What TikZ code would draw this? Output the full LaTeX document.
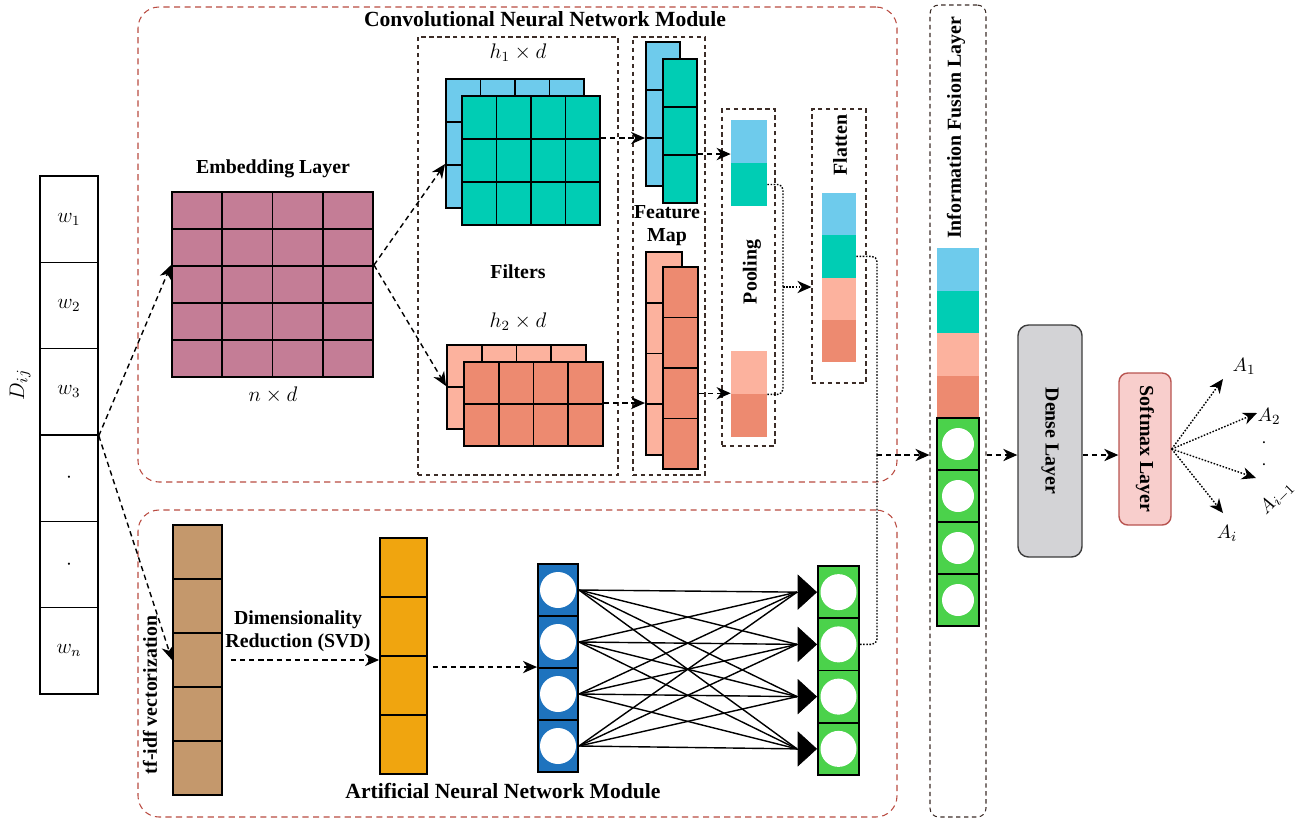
\documentclass[tikz,border=0pt]{standalone}
\usepackage[no-math]{fontspec}
\setmainfont{Liberation Serif}
\usetikzlibrary{arrows.meta,calc,positioning}

\definecolor{embmauve}{RGB}{196,125,150}
\definecolor{cellblue}{RGB}{110,203,236}
\definecolor{cellteal}{RGB}{0,205,180}
\definecolor{cellpeach}{RGB}{252,178,158}
\definecolor{cellsalmon}{RGB}{237,138,112}
\definecolor{tfbrown}{RGB}{196,152,108}
\definecolor{svdorange}{RGB}{240,165,15}
\definecolor{annblue}{RGB}{30,115,190}
\definecolor{anngreen}{RGB}{75,210,75}
\definecolor{modred}{RGB}{185,75,65}
\definecolor{boxbrown}{RGB}{60,45,40}
\definecolor{densegray}{RGB}{211,211,214}
\definecolor{densedraw}{RGB}{60,60,60}
\definecolor{smfill}{RGB}{248,206,204}
\definecolor{smdraw}{RGB}{184,84,80}

% one pixel of the layout
\newcommand{\pu}{0.02cm}

\tikzset{
  cell/.style 2 args={draw, line width=1.1pt, inner sep=0pt, minimum width=#1*\pu, minimum height=#2*\pu},
  band/.style 2 args={inner sep=0pt, minimum width=#1*\pu, minimum height=#2*\pu},
  hole/.style={circle, fill=white, inner sep=0pt, minimum size=#1*\pu},
  lbl/.style={font=\fontsize{11.3}{13.2}\selectfont\bfseries},
  modttl/.style={font=\fontsize{12.3}{14}\selectfont\bfseries},
  mathlbl/.style={font=\fontsize{12}{14}\selectfont},
  outlbl/.style={font=\fontsize{11}{13}\selectfont, inner sep=1pt},
  modbox/.style={draw=modred, semithick, dash pattern=on 3.5pt off 2.5pt, rounded corners=12pt, inner sep=0pt},
  subbox/.style={draw=boxbrown, semithick, dash pattern=on 2.5pt off 2pt, inner sep=0pt},
  dasharrow/.style={thick, dash pattern=on 3pt off 2.2pt, -{Stealth[length=8pt,width=7pt,inset=2.5pt]}},
  dotline/.style={thick, dash pattern=on 0.9pt off 0.9pt, rounded corners=3pt},
  dotarrow/.style={dotline, -{Stealth[length=8pt,width=7pt,inset=2.5pt]}}
}

\begin{document}
\begin{tikzpicture}[x=0.02cm, y=-0.02cm]
  \useasboundingbox (0,0) rectangle (1299,823);

  % modules and dashed groups
  \node[modbox, minimum width=759*\pu, minimum height=475*\pu] (cnnbox) at (517.5,244.5) {};
  \node[modbox, minimum width=759*\pu, minimum height=307*\pu] (annbox) at (517.5,663.5) {};
  \node[subbox, minimum width=200*\pu, minimum height=438*\pu] (filtbox) at (518,256) {};
  \node[subbox, minimum width=72*\pu, minimum height=438*\pu] (fmbox) at (669,256) {};
  \node[subbox, minimum width=53*\pu, minimum height=337*\pu] (poolbox) at (748.5,277.5) {};
  \node[subbox, minimum width=54*\pu, minimum height=274*\pu] (flat) at (839,246) {};
  \node[subbox, rounded corners=5pt, minimum width=56*\pu, minimum height=812*\pu] (fuse) at (958,411) {};

  \node[modttl] (cnnttl) at (545,19) {Convolutional Neural Network Module};
  \node[modttl] (annttl) at (503,791) {Artificial Neural Network Module};

  % input document
  \node[rotate=90, font=\fontsize{13}{15}\selectfont] (dij) at (20,385) {$D_{ij}$};
  \foreach \t [count=\i] in {$w_1$,$w_2$,$w_3$,$\cdot$,$\cdot$,$w_n$}
    \node[cell={58}{86.33}, line width=0.9pt, mathlbl] (w\i) at (69,{176+(\i-0.5)*86.33}) {\t};

  % embedding layer
  \foreach \r in {1,...,5}
    \foreach \c in {1,...,4}
      \node[cell={50.25}{37}, fill=embmauve] (e\r\c) at ({172+(\c-0.5)*50.25},{192+(\r-0.5)*37}) {};
  \node[lbl] (embttl) at (273,169) {Embedding Layer};
  \node[mathlbl] (embdim) at (273,395) {$n\times d$};

  % filters
  \foreach \r in {1,...,3}
    \foreach \c in {1,...,4}
      \node[cell={34.5}{43}, fill=cellblue] (fa\r\c) at ({446+(\c-0.5)*34.5},{79+(\r-0.5)*43}) {};
  \foreach \r in {1,...,3}
    \foreach \c in {1,...,4}
      \node[cell={34.5}{43}, fill=cellteal] (fb\r\c) at ({462+(\c-0.5)*34.5},{96+(\r-0.5)*43}) {};
  \foreach \r in {1,2}
    \foreach \c in {1,...,4}
      \node[cell={34.75}{42}, fill=cellpeach] (fc\r\c) at ({447+(\c-0.5)*34.75},{345+(\r-0.5)*42}) {};
  \foreach \r in {1,2}
    \foreach \c in {1,...,4}
      \node[cell={34.75}{42}, fill=cellsalmon] (fd\r\c) at ({464+(\c-0.5)*34.75},{362+(\r-0.5)*42}) {};
  \node[mathlbl] (f1dim) at (518,53) {$h_1\times d$};
  \node[lbl] (filtttl) at (518,272) {Filters};
  \node[mathlbl] (f2dim) at (518,322) {$h_2\times d$};

  % feature maps
  \foreach \r in {1,...,3} {
    \node[cell={34}{48}, fill=cellblue] (ma\r) at (663,{42+(\r-0.5)*48}) {};
  }
  \foreach \r in {1,...,3} {
    \node[cell={34}{48}, fill=cellteal] (mb\r) at (680,{59+(\r-0.5)*48}) {};
  }
  \foreach \r in {1,...,4} {
    \node[cell={36}{50.75}, fill=cellpeach] (mc\r) at (664,{252+(\r-0.5)*50.75}) {};
  }
  \foreach \r in {1,...,4} {
    \node[cell={35}{50.5}, fill=cellsalmon] (md\r) at (680.5,{267+(\r-0.5)*50.5}) {};
  }
  \node[lbl, align=center] (fmttl) at (667,226) {Feature\\Map};

  % pooling
  \node[band={36}{43}, fill=cellblue] (p1) at (749,141.5) {};
  \node[band={36}{43}, fill=cellteal] (p2) at (749,184.5) {};
  \node[band={36}{43}, fill=cellpeach] (p3) at (749,372.5) {};
  \node[band={36}{43}, fill=cellsalmon] (p4) at (749,415.5) {};
  \node[lbl, rotate=90] (poolttl) at (752,272) {Pooling};

  % flatten
  \foreach \col [count=\i] in {cellblue,cellteal,cellpeach,cellsalmon}
    \node[band={34}{42.25}, fill=\col] (fl\i) at (839,{193+(\i-0.5)*42.25}) {};
  \node[lbl, rotate=90] (flatttl) at (840,145) {Flatten};

  % information fusion
  \foreach \col [count=\i] in {cellblue,cellteal,cellpeach,cellsalmon}
    \node[band={42}{42.5}, fill=\col] (u\i) at (958,{248+(\i-0.5)*42.5}) {};
  \foreach \i in {1,...,4} {
    \node[cell={42}{52}, fill=anngreen] (v\i) at (958,{418+(\i-0.5)*52}) {};
    \node[hole=32] (vc\i) at (v\i) {};
  }
  \node[lbl, rotate=90] (fusettl) at (956,128) {Information Fusion Layer};

  % tf-idf + svd + ann
  \foreach \i in {1,...,5}
    \node[cell={49}{54}, fill=tfbrown] (t\i) at (197.5,{525+(\i-0.5)*54}) {};
  \node[lbl, rotate=90] (tfttl) at (150,695) {tf-idf vectorization};
  \foreach \i in {1,...,4}
    \node[cell={47}{59}, fill=svdorange] (o\i) at (403.5,{538+(\i-0.5)*59}) {};
  \node[lbl, align=center] (svdttl) at (298,631) {Dimensionality\\Reduction (SVD)};
  \foreach \i in {1,...,4} {
    \node[cell={40}{52}, fill=annblue] (b\i) at (558,{564+(\i-0.5)*52}) {};
    \node[hole=36] (bc\i) at (b\i) {};
    \node[cell={41}{52.25}, fill=anngreen] (n\i) at (838.5,{566+(\i-0.5)*52.25}) {};
    \node[hole=36] (nc\i) at (n\i) {};
    \coordinate (h\i) at ($(n\i.west)+(-20,0)$);
  }
  \foreach \i in {1,...,4}
    \foreach \j in {1,...,4}
      \draw[thick] (b\i.east) -- (h\j);
  \foreach \j in {1,...,4}
    \draw[-{Triangle[length=11pt,width=20pt]}] (h\j) -- (n\j.west);

  % dense and softmax
  \node[rotate=-90, draw=densedraw, fill=densegray, thick, rounded corners=6pt,
        minimum width=232*\pu, minimum height=64*\pu, lbl] (dense) at (1050,441) {Dense Layer};
  \node[rotate=-90, draw=smdraw, fill=smfill, thick, rounded corners=5pt,
        minimum width=152*\pu, minimum height=52*\pu, lbl] (soft) at (1145,449) {Softmax Layer};

  % connectors
  \draw[dasharrow] (w3.south east) -- (e31.north west);
  \draw[dasharrow] (w3.south east) -- (t3.west);
  \draw[dasharrow] (e34.north east) -- (fa31.north west);
  \draw[dasharrow] (e34.north east) -- (fc21.north west);
  \draw[dasharrow] (fb24.north east) -- (fb24.north east -| ma3.west);
  \draw[dasharrow] (fd24.north east) -- (fd24.north east -| mc4.west);
  \draw[dasharrow] (mb3.north east) -- (mb3.north east -| p1.west);
  \draw[dasharrow] (md3.east) -- (md3.east -| p3.west);

  \coordinate (pj) at (783,287);
  \draw[dotline] (p2.east) -| (pj);
  \draw[dotline] (p3.south east) -| (pj);
  \draw[dotarrow] (pj) -- (pj -| flat.west);

  \coordinate (fj) at (877,455);
  \draw[dotline] (fl2.east) -| (fj);
  \draw[dotline] (n2.east) -| (fj);
  \draw[dasharrow] (fj) -- (fj -| fuse.west);

  \draw[dasharrow, shorten <=4.5pt] (t3.east) -- (t3.east -| o3.west);
  \draw[dasharrow, shorten <=2.8pt] (o3.east |- b3.north) -- (b3.north west);

  \draw[dasharrow] (fj -| fuse.east) -- (fj -| dense.south);
  \draw[dasharrow] (fj -| dense.north) -- (fj -| soft.south);

  % outputs
  \coordinate (r1) at (1223,379);
  \coordinate (r2) at (1257,413);
  \coordinate (r3) at (1256,478);
  \coordinate (r4) at (1223,513);
  \foreach \i in {1,...,4}
    \draw[dotarrow] (soft.north) -- (r\i);
  \node[outlbl] (la1) at (1244,366) {$A_1$};
  \node[outlbl] (la2) at (1269,416) {$A_2$};
  \node[outlbl, inner sep=0pt] (dt1) at (1264,443) {$\cdot$};
  \node[outlbl, inner sep=0pt] (dt2) at (1264,465) {$\cdot$};
  \node[outlbl, rotate=45] (la3) at (1277,498) {$A_{i-1}$};
  \node[outlbl] (la4) at (1227,533) {$A_i$};
\end{tikzpicture}
\end{document}
